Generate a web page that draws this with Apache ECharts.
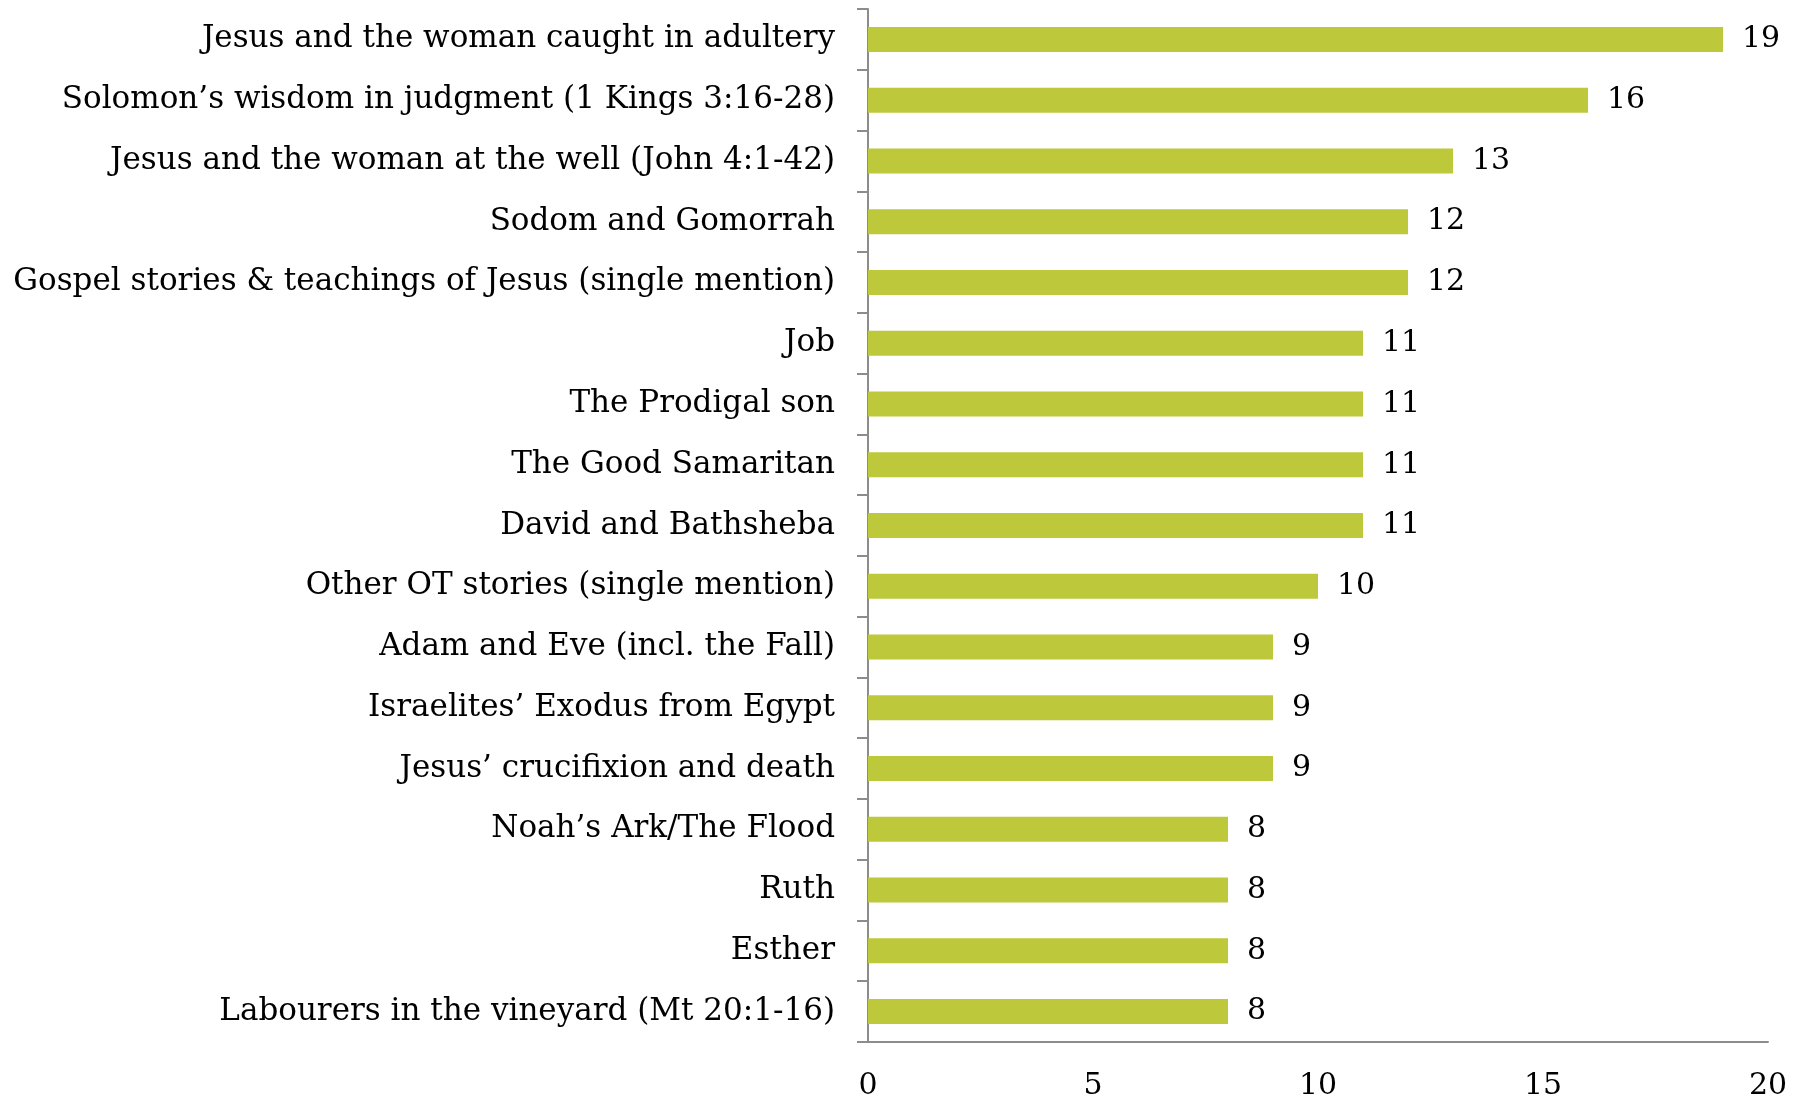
<!DOCTYPE html>
<html>
<head>
<meta charset="utf-8">
<script src="https://cdn.jsdelivr.net/npm/echarts@6/dist/echarts.min.js"></script>
<style>html,body{margin:0;padding:0;background:#fff}#c{width:1800px;height:1101px}</style>
</head>
<body>
<div id="c"></div>
<script>
const categories = [
  "Jesus and the woman caught in adultery",
  "Solomon\u2019s wisdom in judgment (1 Kings 3:16-28)",
  "Jesus and the woman at the well (John 4:1-42)",
  "Sodom and Gomorrah",
  "Gospel stories & teachings of Jesus (single mention)",
  "Job",
  "The Prodigal son",
  "The Good Samaritan",
  "David and Bathsheba",
  "Other OT stories (single mention)",
  "Adam and Eve (incl. the Fall)",
  "Israelites\u2019 Exodus from Egypt",
  "Jesus\u2019 crucifixion and death",
  "Noah\u2019s Ark/The Flood",
  "Ruth",
  "Esther",
  "Labourers in the vineyard (Mt 20:1-16)"
];
const values = [19, 16, 13, 12, 12, 11, 11, 11, 11, 10, 9, 9, 9, 8, 8, 8, 8];
const xTicks = [0, 5, 10, 15, 20];

const FONT = "DejaVu Serif";
const chart = echarts.init(document.getElementById('c'), null, {renderer: 'canvas'});
chart.setOption({
  animation: false,
  grid: {left: 868, right: 32, top: 9, bottom: 58, containLabel: false},
  xAxis: {
    type: 'value', min: xTicks[0], max: xTicks[xTicks.length - 1], interval: 5,
    axisLine: {show: true, lineStyle: {color: '#8c8c8c', width: 2}},
    axisTick: {show: false},
    splitLine: {show: false},
    axisLabel: {color: '#000', fontFamily: FONT, fontSize: 30, margin: 29}
  },
  yAxis: {
    type: 'category', data: categories, inverse: true,
    axisLine: {show: true, lineStyle: {color: '#8c8c8c', width: 2}},
    axisTick: {show: true, length: 11, lineStyle: {color: '#8c8c8c', width: 2}},
    axisLabel: {color: '#000', fontFamily: FONT, fontSize: 31, margin: 33}
  },
  series: [{
    type: 'bar', data: values, barWidth: 25,
    itemStyle: {color: '#bdc83a'},
    label: {show: true, position: 'right', distance: 19, color: '#000', fontFamily: FONT, fontSize: 30}
  }]
});
</script>
</body>
</html>
